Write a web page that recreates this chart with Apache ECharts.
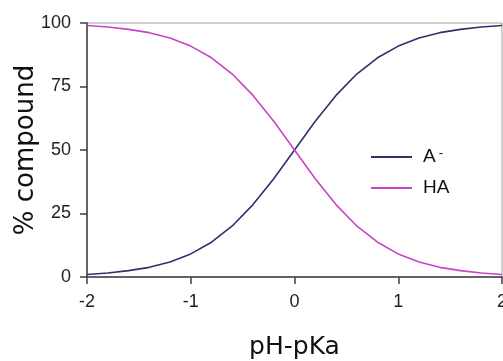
<!DOCTYPE html>
<html>
<head>
<meta charset="utf-8">
<script src="https://cdn.jsdelivr.net/npm/echarts@6/dist/echarts.min.js"></script>
<style>
  html, body { margin: 0; padding: 0; background: #fff; }
  #chart { width: 503px; height: 361px; }
</style>
</head>
<body>
<div id="chart"></div>
<script>
// pH - pKa sample points
const phMinusPka = [-2, -1.8, -1.6, -1.4, -1.2, -1, -0.8, -0.6, -0.4, -0.2, 0,
                    0.2, 0.4, 0.6, 0.8, 1, 1.2, 1.4, 1.6, 1.8, 2];
// % of compound present as the conjugate base A-
const aMinus = [1.0, 1.6, 2.5, 3.8, 5.9, 9.1, 13.7, 20.1, 28.5, 38.7, 50.0,
                61.3, 71.5, 79.9, 86.3, 90.9, 94.1, 96.2, 97.5, 98.4, 99.0];
// % of compound present as the acid HA
const haAcid = [99.0, 98.4, 97.5, 96.2, 94.1, 90.9, 86.3, 79.9, 71.5, 61.3, 50.0,
                38.7, 28.5, 20.1, 13.7, 9.1, 5.9, 3.8, 2.5, 1.6, 1.0];
// axis tick labels
const xTickLabels = ['-2', '-1', '0', '1', '2'];
const yTickLabels = ['0', '25', '50', '75', '100'];
const seriesNames = ['A-', 'HA'];

const chart = echarts.init(document.getElementById('chart'), null, { renderer: 'canvas' });

const toPairs = ys => phMinusPka.map((x, i) => [x, ys[i]]);

chart.setOption({
  animation: false,
  backgroundColor: '#ffffff',
  grid: {
    left: 87, right: 1, top: 23, bottom: 84,
    containLabel: false,
    outerBoundsMode: 'none',
    show: true, borderColor: '#a0a0a0', borderWidth: 1, backgroundColor: 'transparent'
  },
  legend: {
    orient: 'vertical',
    left: 366, top: 142,
    icon: 'rect',
    itemWidth: 41, itemHeight: 2,
    itemGap: 12,
    data: seriesNames,
    formatter: name => name === 'A-' ? '{n|A}{s|-}' : '{n|HA}',
    textStyle: {
      padding: [0, 0, 0, 6],
      rich: {
        n: { fontFamily: 'Liberation Sans', fontSize: 19, color: '#111', lineHeight: 20 },
        s: { fontFamily: 'Liberation Sans', fontSize: 13, color: '#111', verticalAlign: 'top', padding: [0, 0, 0, 3], lineHeight: 20 }
      }
    }
  },
  xAxis: {
    type: 'value',
    min: -2, max: 2, interval: 1,
    name: 'pH-pKa',
    nameLocation: 'middle',
    nameGap: 58,
    nameMoveOverlap: false,
    nameTextStyle: { fontFamily: 'DejaVu Sans', fontSize: 25, color: '#111' },
    axisLine: { show: true, onZero: false, lineStyle: { color: '#404040', width: 1.5 } },
    axisTick: { show: true, inside: false, length: 7, lineStyle: { color: '#404040', width: 1.5 } },
    axisLabel: {
      margin: 16,
      fontFamily: 'Liberation Sans', fontSize: 18, color: '#222',
      formatter: v => xTickLabels[Math.round(v + 2)]
    },
    splitLine: { show: false }
  },
  yAxis: {
    type: 'value',
    min: 0, max: 100, interval: 25,
    name: '% compound',
    nameLocation: 'middle',
    nameGap: 48,
    nameMoveOverlap: false,
    nameRotate: 90,
    nameTextStyle: { fontFamily: 'DejaVu Sans', fontSize: 26, color: '#111' },
    axisLine: { show: true, onZero: false, lineStyle: { color: '#404040', width: 1.5 } },
    axisTick: { show: true, inside: false, length: 7, lineStyle: { color: '#404040', width: 1.5 } },
    axisLabel: {
      margin: 16,
      fontFamily: 'Liberation Sans', fontSize: 18, color: '#222',
      formatter: v => yTickLabels[Math.round(v / 25)]
    },
    splitLine: { show: false }
  },
  series: [
    {
      name: seriesNames[0],
      type: 'line',
      data: toPairs(aMinus),
      symbol: 'none',
      smooth: false,
      color: '#30306c',
      lineStyle: { color: '#30306c', width: 1.6 }
    },
    {
      name: seriesNames[1],
      type: 'line',
      data: toPairs(haAcid),
      symbol: 'none',
      smooth: false,
      color: '#c843c8',
      lineStyle: { color: '#c843c8', width: 1.6 }
    }
  ]
});
</script>
</body>
</html>
